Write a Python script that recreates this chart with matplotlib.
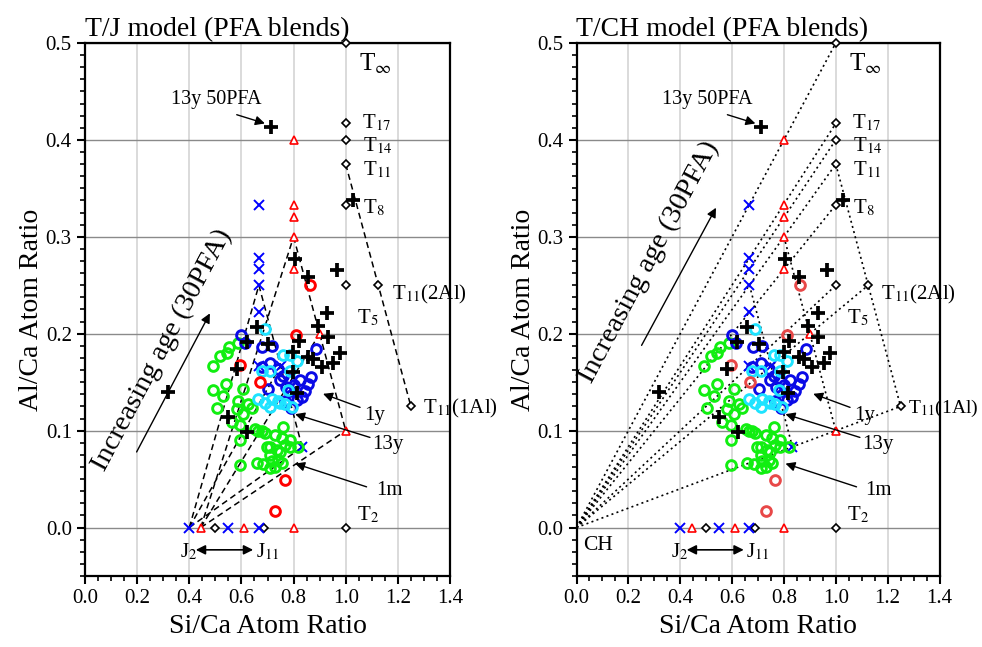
import matplotlib
matplotlib.use("Agg")
import matplotlib.pyplot as plt
from matplotlib.ticker import MultipleLocator, FormatStrFormatter

plt.rcParams['font.family'] = ['Liberation Serif', 'DejaVu Serif']
plt.rcParams['mathtext.fontset'] = 'stix'

# ---- model compositions (Si/Ca, Al/Ca) ----
t_names = [r'T$_{\infty}$', r'T$_{17}$', r'T$_{14}$', r'T$_{11}$', r'T$_{8}$',
           r'T$_{5}$', r'T$_{11}$(2Al)', r'T$_{11}$(1Al)', r'T$_{2}$']
t_x = [1.0, 1.0, 1.0, 1.0, 1.0, 1.0, 1.125, 1.25, 1.0]
t_y = [0.5, 0.417, 0.4, 0.375, 0.333, 0.25, 0.25, 0.125, 0.0]
j_x = [0.5, 0.6875]
j_y = [0.0, 0.0]

red_tri_x = [0.8, 0.8, 0.8, 0.8, 0.8, 0.9, 1.0, 0.8, 0.444, 0.611]
red_tri_y = [0.4, 0.333, 0.32, 0.3, 0.267, 0.2, 0.1, 0.0, 0.0, 0.0]
blue_x_x = [0.667, 0.667, 0.667, 0.667, 0.667, 0.667, 0.75, 0.833, 0.4, 0.55, 0.667]
blue_x_y = [0.333, 0.278, 0.267, 0.25, 0.222, 0.167, 0.167, 0.083, 0.0, 0.0, 0.0]

# Al substitution series
t11_line_x = [1.0, 1.125, 1.25]
t11_line_y = [0.375, 0.25, 0.125]
red_line_x = [0.8, 0.9, 1.0]
red_line_y = [0.3, 0.2, 0.1]
blue_line_x = [0.667, 0.75, 0.833]
blue_line_y = [0.25, 0.167, 0.083]
j_red = [0.444, 0.0]
j_blue = [0.4, 0.0]
ch_pt = [0.0, 0.0]

# ---- measured data ----
green_x = [0.492, 0.518, 0.543, 0.553, 0.588, 0.492, 0.540, 0.531, 0.607, 0.505,
           0.588, 0.582, 0.607, 0.639, 0.625, 0.563, 0.595, 0.652, 0.678, 0.690,
           0.665, 0.595, 0.761, 0.754, 0.729, 0.786, 0.697, 0.710, 0.735, 0.767,
           0.786, 0.818, 0.748, 0.710, 0.716, 0.595, 0.658, 0.684, 0.710, 0.729,
           0.754, 0.741]
green_y = [0.167, 0.177, 0.180, 0.186, 0.190, 0.142, 0.148, 0.136, 0.143, 0.123,
           0.131, 0.122, 0.117, 0.123, 0.128, 0.109, 0.106, 0.102, 0.100, 0.098,
           0.100, 0.090, 0.104, 0.092, 0.095, 0.090, 0.083, 0.083, 0.080, 0.085,
           0.083, 0.083, 0.078, 0.075, 0.069, 0.065, 0.067, 0.066, 0.061, 0.062,
           0.067, 0.070]

blue_x = [0.598, 0.614, 0.680, 0.716, 0.885, 0.710, 0.678, 0.742, 0.761, 0.748,
          0.868, 0.786, 0.825, 0.857, 0.703, 0.786, 0.844, 0.831, 0.812, 0.767,
          0.790, 0.800, 0.770]
blue_y = [0.199, 0.190, 0.186, 0.187, 0.184, 0.170, 0.166, 0.164, 0.156, 0.152,
          0.155, 0.152, 0.152, 0.148, 0.143, 0.141, 0.141, 0.135, 0.132, 0.131,
          0.123, 0.147, 0.145]

cyan_x = [0.690, 0.761, 0.786, 0.812, 0.678, 0.710, 0.786, 0.780, 0.665, 0.690,
          0.716, 0.742, 0.767, 0.793, 0.710, 0.748]
cyan_y = [0.205, 0.178, 0.178, 0.172, 0.162, 0.162, 0.162, 0.142, 0.133, 0.129,
          0.133, 0.131, 0.128, 0.124, 0.124, 0.129]

red_x = [0.863, 0.810, 0.595, 0.671, 0.767, 0.729]
red_y = [0.250, 0.199, 0.168, 0.150, 0.049, 0.017]

plus_x = [0.712, 1.029, 0.806, 0.857, 0.965, 0.930, 0.658, 0.892, 0.933, 0.620,
          0.820, 0.703, 0.799, 0.857, 0.876, 0.978, 0.953, 0.908, 0.582, 0.797,
          0.815, 0.320, 0.550, 0.623]
plus_y = [0.413, 0.338, 0.277, 0.259, 0.266, 0.221, 0.207, 0.208, 0.197, 0.191,
          0.193, 0.189, 0.181, 0.176, 0.174, 0.180, 0.170, 0.166, 0.164, 0.161,
          0.139, 0.140, 0.114, 0.099]

GREEN = '#11ee11'
CYAN = '#1ee3ff'
BLUE = '#0a0ae6'


def setup(ax, title):
    ax.set_xlim(0, 1.4)
    ax.set_ylim(-0.05, 0.5)
    ax.xaxis.set_major_locator(MultipleLocator(0.2))
    ax.xaxis.set_minor_locator(MultipleLocator(0.05))
    ax.yaxis.set_major_locator(MultipleLocator(0.1))
    ax.yaxis.set_minor_locator(MultipleLocator(0.0125))
    ax.xaxis.set_major_formatter(FormatStrFormatter('%.1f'))
    ax.yaxis.set_major_formatter(FormatStrFormatter('%.1f'))
    ax.tick_params(which='major', direction='out', length=6, width=1.5, labelsize=15)
    ax.tick_params(which='minor', direction='out', length=3.5, width=1.2)
    ax.xaxis.grid(True, color='#d4d4d4', lw=1.2, zorder=0)
    ax.yaxis.grid(True, color='#8a8a8a', lw=1.0, zorder=0)
    ax.set_axisbelow(True)
    for s in ax.spines.values():
        s.set_linewidth(1.6)
    ax.set_xlabel('Si/Ca Atom Ratio', fontsize=20, labelpad=4)
    ax.set_ylabel('Al/Ca Atom Ratio', fontsize=20, labelpad=1)
    ax.set_title(title, loc='left', fontsize=20, pad=5)


def model_markers(ax):
    ax.plot(t_x, t_y, 'D', ms=4.5, mfc='white', mec='k', mew=1.2, ls='none', zorder=3, clip_on=False)
    ax.plot(j_x, j_y, 'D', ms=4.5, mfc='white', mec='k', mew=1.2, ls='none', zorder=3)
    ax.plot(red_tri_x, red_tri_y, '^', ms=5.5, mfc='white', mec='red', mew=1.2, ls='none', zorder=3)
    ax.plot(blue_x_x, blue_x_y, 'x', ms=6.5, color='#0000ff', mew=1.4, ls='none', zorder=3)


def data_markers(ax, red_col):
    ax.plot(green_x, green_y, 'o', ms=7, mfc='none', mec=GREEN, mew=2.1, ls='none', zorder=4)
    ax.plot(blue_x, blue_y, 'o', ms=7, mfc='none', mec=BLUE, mew=2.1, ls='none', zorder=5)
    ax.plot(cyan_x, cyan_y, 'o', ms=7, mfc='none', mec=CYAN, mew=2.1, ls='none', zorder=6)
    ax.plot(red_x, red_y, 'o', ms=7, mfc='none', mec=red_col, mew=2.1, ls='none', zorder=7)
    ax.plot(plus_x, plus_y, '+', ms=10.5, color='k', mew=2.7, ls='none', zorder=8)


def labels(ax, text_xy, arrow_xy, al1_x, al1_fs):
    ax.text(1.05, 0.478, t_names[0], fontsize=18, ha='left', va='center')
    ax.text(1.062, 0.418, t_names[1], fontsize=15, ha='left', va='center')
    ax.text(1.065, 0.394, t_names[2], fontsize=15, ha='left', va='center')
    ax.text(1.065, 0.369, t_names[3], fontsize=15, ha='left', va='center')
    ax.text(1.065, 0.330, t_names[4], fontsize=15, ha='left', va='center')
    ax.text(1.042, 0.216, t_names[5], fontsize=15, ha='left', va='center')
    ax.text(1.176, 0.240, t_names[6], fontsize=15, ha='left', va='center')
    ax.text(al1_x, 0.123, t_names[7], fontsize=al1_fs, ha='left', va='center')
    ax.text(1.042, 0.013, t_names[8], fontsize=15, ha='left', va='center')

    ax.text(0.504, 0.442, '13y 50PFA', fontsize=14.5, ha='center', va='center')
    arr = dict(arrowstyle='-|>', color='k', lw=1.0, mutation_scale=14, shrinkA=0, shrinkB=0)
    ax.annotate('', xy=(0.69, 0.417), xytext=(0.582, 0.426), arrowprops=arr)

    ax.text(1.07, 0.116, '1y', fontsize=15, ha='left', va='center')
    ax.annotate('', xy=(0.913, 0.138), xytext=(1.055, 0.124), arrowprops=arr)
    ax.text(1.1, 0.086, '13y', fontsize=15, ha='left', va='center')
    ax.annotate('', xy=(0.806, 0.117), xytext=(1.093, 0.093), arrowprops=arr)
    ax.text(1.115, 0.038, '1m', fontsize=15, ha='left', va='center')
    ax.annotate('', xy=(0.806, 0.066), xytext=(1.08, 0.042), arrowprops=arr)

    ax.text(0.364, -0.025, r'J$_{2}$', fontsize=15, ha='left', va='center')
    ax.text(0.655, -0.025, r'J$_{11}$', fontsize=15, ha='left', va='center')
    ax.annotate('', xy=(0.645, -0.023), xytext=(0.425, -0.023),
                arrowprops=dict(arrowstyle='<|-|>', color='k', lw=1.2, mutation_scale=14,
                                shrinkA=0, shrinkB=0))

    ax.text(text_xy[0], text_xy[1], 'Increasing age (30PFA)', fontsize=20.5,
            rotation=62, ha='center', va='center')
    ax.annotate('', xy=arrow_xy[1], xytext=arrow_xy[0], arrowprops=arr)


fig = plt.figure(figsize=(9.82, 6.47), dpi=100)
ax1 = fig.add_axes([85 / 982, 1 - 576 / 647, 365 / 982, 533 / 647])
ax2 = fig.add_axes([576.5 / 982, 1 - 576 / 647, 363 / 982, 533 / 647])

# ---- T/J model ----
setup(ax1, 'T/J model (PFA blends)')
dash = dict(color='k', lw=1.1, ls=(0, (4, 2.6)), zorder=2)
ax1.plot(t11_line_x, t11_line_y, **dash)
ax1.plot(red_line_x, red_line_y, **dash)
ax1.plot(blue_line_x, blue_line_y, **dash)
for xe, ye in zip(red_line_x, red_line_y):
    ax1.plot([j_red[0], xe], [j_red[1], ye], **dash)
for xe, ye in zip(blue_line_x, blue_line_y):
    ax1.plot([j_blue[0], xe], [j_blue[1], ye], **dash)
model_markers(ax1)
data_markers(ax1, 'red')
labels(ax1, (0.295, 0.183), ((0.198, 0.078), (0.479, 0.221)), 1.298, 15)

# ---- T/CH model ----
setup(ax2, 'T/CH model (PFA blends)')
dot = dict(color='k', lw=1.2, ls=(0, (1.2, 2.0)), zorder=2)
for xe, ye in zip(t_x[:8], t_y[:8]):
    ax2.plot([ch_pt[0], xe], [ch_pt[1], ye], **dot)
ax2.plot(t11_line_x, t11_line_y, **dot)
ax2.plot(red_line_x, red_line_y, **dot)
ax2.plot(blue_line_x, blue_line_y, **dot)
model_markers(ax2)
data_markers(ax2, '#e84848')
labels(ax2, (0.28, 0.274), ((0.251, 0.188), (0.538, 0.330)), 1.28, 14)
ax2.text(0.025, -0.019, 'CH', fontsize=15.5, ha='left', va='center')

plt.savefig('out.png', dpi=100)
